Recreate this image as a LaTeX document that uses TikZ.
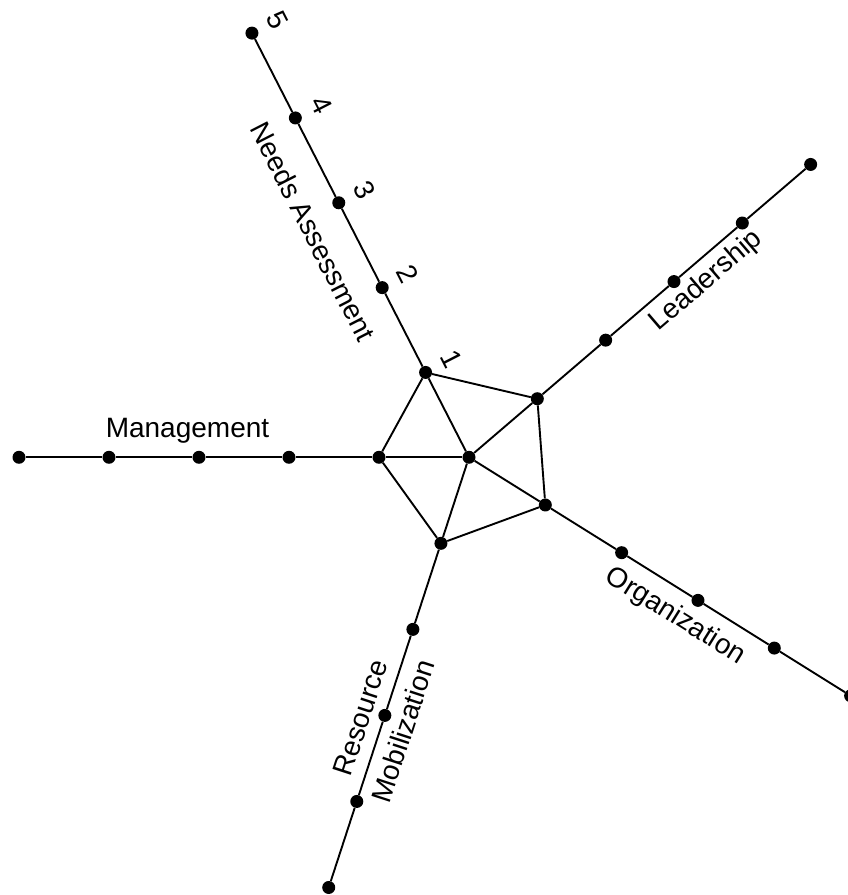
\documentclass[tikz,border=0pt]{standalone}
\usepackage{fontspec}
\setmainfont{Liberation Sans}
\usetikzlibrary{calc}
\begin{document}
\begin{tikzpicture}[x=1pt,y=1pt,
  dot/.style={circle,fill=black,inner sep=0pt,minimum size=13pt},
  edge/.style={line width=1.9pt},
  lab/.style={font=\fontsize{28}{33}\selectfont,inner sep=0pt}]
\useasboundingbox (0,0) rectangle (847,895);
\coordinate (C) at (469,437.7);
\node[dot] (c) at (C) {};
\foreach \name/\ang/\st in {na/117.1/95.3, le/40.6/90, or/-32/90, rm/-108.06/90.5, ma/180/90} {
  \foreach \k in {1,...,5} {
    \node[dot] (\name\k) at ($(C)+(\ang:{\k*\st})$) {};
  }
}
\foreach \n in {na,le,or,rm,ma} {
  \draw[edge] (c) -- (\n1) -- (\n2) -- (\n3) -- (\n4) -- (\n5);
}
\draw[edge] (na1) -- (le1) -- (or1) -- (rm1) -- (ma1) -- (na1);
\foreach \k in {1,...,5} {
  \node[lab,rotate=-62.9] (d\k) at ($(na\k)+(27.1:29)$) {\k};
}
\node[lab,rotate=-62.9,anchor=base] (tna) at ($(C)+(117.1:272)+(207.1:46)$) {Needs Assessment};
\node[lab,rotate=40.6,anchor=base] (tle) at ($(C)+(40.6:295)+(-49.4:28)$) {Leadership};
\node[lab,rotate=-32,anchor=base] (tor) at ($(C)+(-32:259)+(-122:33)$) {Organization};
\node[lab,rotate=71.94,align=center,font=\fontsize{28}{45}\selectfont] (trm) at ($(C)+(-108.06:281)$) {Resource\\Mobilization};
\node[lab,anchor=base] (tma) at ($(C)+(180:281.5)+(90:20)$) {Management};
\end{tikzpicture}
\end{document}
